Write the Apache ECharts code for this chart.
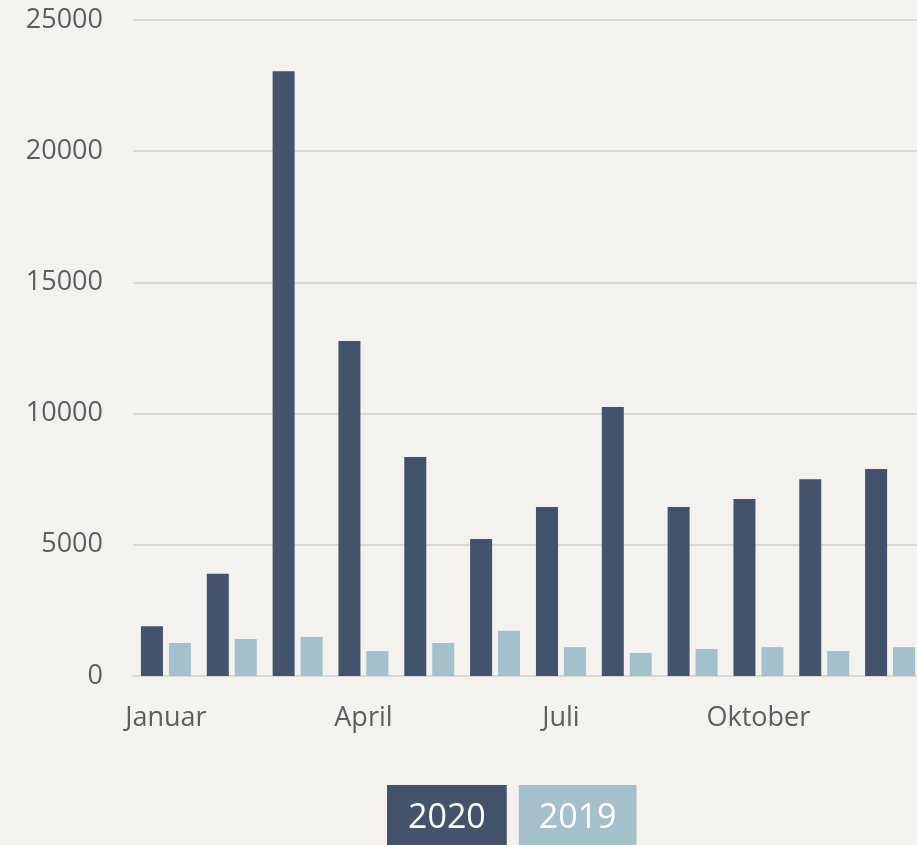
<!DOCTYPE html>
<html>
<head>
<meta charset="utf-8">
<script src="https://cdn.jsdelivr.net/npm/echarts@6/dist/echarts.min.js"></script>
<style>
html,body{margin:0;padding:0;background:#f4f2ef;}
#c{width:917px;height:845px;}
</style>
</head>
<body>
<div id="c"></div>
<script>
const months = ['Januar','Februar','März','April','Mai','Juni','Juli','August','September','Oktober','November','Dezember'];
const values2020 = [1900, 3900, 23050, 12770, 8350, 5220, 6440, 10250, 6440, 6750, 7500, 7890];
const values2019 = [1260, 1410, 1490, 950, 1260, 1720, 1100, 880, 1030, 1100, 950, 1100];
const yTicks = [0, 5000, 10000, 15000, 20000, 25000];

const dark = '#42536b';
const light = '#a4c0ca';
const chart = echarts.init(document.getElementById('c'));
chart.setOption({
  backgroundColor: '#f4f2ef',
  animation: false,
  grid: {left: 133, width: 790, top: 20, height: 656, containLabel: false, outerBoundsMode: 'none'},
  legend: {
    left: 377, top: 780, itemGap: 7, itemWidth: 0, itemHeight: 0, icon: 'rect',
    selectedMode: false,
    data: [
      {name: '2020', textStyle: {backgroundColor: dark, color: '#ffffff', fontFamily: 'Open Sans', fontSize: 34, lineHeight: 40, padding: [13, 21, 13, 21]}},
      {name: '2019', textStyle: {backgroundColor: light, color: '#ffffff', fontFamily: 'Open Sans', fontSize: 34, lineHeight: 40, padding: [13, 20, 13, 20]}}
    ]
  },
  xAxis: {
    type: 'category',
    data: months,
    axisLine: {lineStyle: {color: '#d9d9d9', width: 2}},
    axisTick: {show: false},
    axisLabel: {interval: 2, color: '#5e5e5e', fontFamily: 'Open Sans', fontSize: 27, margin: 29}
  },
  yAxis: {
    type: 'value',
    min: yTicks[0], max: yTicks[yTicks.length - 1], interval: 5000,
    axisLine: {show: false},
    axisTick: {show: false},
    splitLine: {lineStyle: {color: '#d9d9d9', width: 2}},
    axisLabel: {color: '#5e5e5e', fontFamily: 'Open Sans', fontSize: 27, margin: 30, formatter: v => String(v)}
  },
  series: [
    {name: '2020', type: 'bar', data: values2020, barWidth: 22, barGap: '27%', itemStyle: {color: dark}},
    {name: '2019', type: 'bar', data: values2019, barWidth: 22, barGap: '27%', itemStyle: {color: light}}
  ]
});
</script>
</body>
</html>
